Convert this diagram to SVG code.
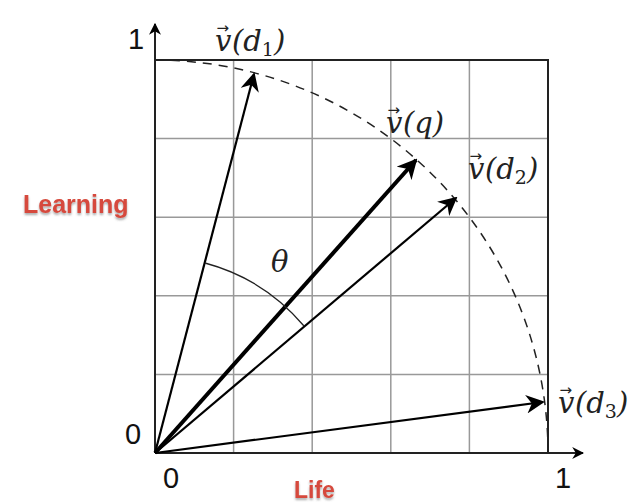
<svg xmlns="http://www.w3.org/2000/svg" width="639" height="503" viewBox="0 0 639 503">
<style>
.grid{stroke:#999;stroke-width:1.5;fill:none}
.frame{stroke:#222;stroke-width:2;fill:none}
.vec{stroke:#000;stroke-width:2.2;fill:none}
.lbl{font-family:"DejaVu Serif","Liberation Serif",serif;font-style:italic;font-size:29px;fill:#222}
.sub{font-style:normal;font-size:19px}
.acc{font-family:"DejaVu Sans","Liberation Sans",sans-serif;font-style:normal;font-size:15px}
.num{font-family:"Liberation Sans",Arial,sans-serif;font-size:29px;fill:#111}
.red{font-family:"Liberation Sans",Arial,sans-serif;font-weight:bold;fill:#d64a3c;filter:url(#sh)}
</style>
<defs>
<marker id="ah" viewBox="0 0 10 10" refX="9" refY="5" markerWidth="20" markerHeight="20" markerUnits="userSpaceOnUse" orient="auto">
<path d="M0,0 L10,5 L0,10 L3,5 Z" fill="#000"/>
</marker>
<marker id="ahv" viewBox="0 0 10 10" refX="9" refY="5" markerWidth="8.5" markerHeight="8.5" orient="auto">
<path d="M0,0 L10,5 L0,10 L3,5 Z" fill="#000"/>
</marker>
<marker id="ax" viewBox="0 0 10 10" refX="9" refY="5" markerWidth="6" markerHeight="6" orient="auto">
<path d="M0,0 L10,5 L0,10 L3,5 Z" fill="#000"/>
</marker>
<filter id="sh" x="-10%" y="-20%" width="120%" height="160%">
<feDropShadow dx="0" dy="2" stdDeviation="1.2" flood-color="#555" flood-opacity="0.5"/>
</filter>
</defs>
<g id="grid">
<path class="grid" d="M233.6,60V453M312.2,60V453M390.8,60V453M469.4,60V453M155,138.6H548M155,217.2H548M155,295.8H548M155,374.4H548"/>
<path class="frame" d="M155,60H548V453"/>
</g>
<g id="axes">
<line x1="155" y1="453" x2="155" y2="24" stroke="#222" stroke-width="2" marker-end="url(#ax)"/>
<line x1="155" y1="453" x2="583" y2="453" stroke="#222" stroke-width="2" marker-end="url(#ax)"/>
</g>
<g id="circle">
<path d="M155,60 A393,393 0 0 1 548,453" fill="none" stroke="#222" stroke-width="1.5" stroke-dasharray="9,7"/>
</g>
<g id="connectors">
<line class="vec" x1="155" y1="453" x2="254" y2="74" marker-end="url(#ahv)"/>
<line x1="155" y1="453" x2="416" y2="160" stroke="#000" stroke-width="4" marker-end="url(#ah)"/>
<line class="vec" x1="155" y1="453" x2="456" y2="198" marker-end="url(#ahv)"/>
<line class="vec" x1="155" y1="453" x2="543" y2="402" marker-end="url(#ahv)"/>
<path d="M205,263 A196,196 0 0 1 304,326" fill="none" stroke="#222" stroke-width="1.3"/>
</g>
<g id="labels">
<text class="num" x="128" y="49">1</text>
<text class="num" x="125" y="444">0</text>
<text class="num" x="163" y="488">0</text>
<text class="num" x="555" y="488">1</text>
<text class="lbl" x="215" y="51">v<tspan class="acc" dx="-15" dy="-18">→</tspan><tspan dx="3" dy="18">(d</tspan><tspan class="sub" dy="5">1</tspan><tspan dy="-5">)</tspan></text>
<text class="lbl" x="386" y="133">v<tspan class="acc" dx="-15" dy="-18">→</tspan><tspan dx="3" dy="18">(q)</tspan></text>
<text class="lbl" x="468" y="179">v<tspan class="acc" dx="-15" dy="-18">→</tspan><tspan dx="3" dy="18">(d</tspan><tspan class="sub" dy="5">2</tspan><tspan dy="-5">)</tspan></text>
<text class="lbl" x="558" y="413">v<tspan class="acc" dx="-15" dy="-18">→</tspan><tspan dx="3" dy="18">(d</tspan><tspan class="sub" dy="5">3</tspan><tspan dy="-5">)</tspan></text>
<text class="lbl" x="271" y="272">θ</text>
<text class="red" x="23" y="213" font-size="25">Learning</text>
<text class="red" x="294" y="498" font-size="23">Life</text>
</g>
</svg>
